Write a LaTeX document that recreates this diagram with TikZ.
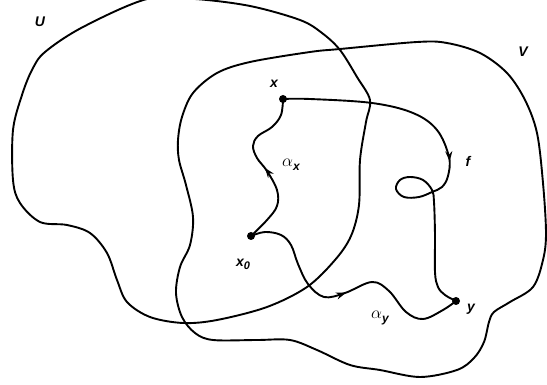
\documentclass[tikz,border=0pt]{standalone}
\usepackage{fontspec}
\newfontfamily\labfont{Liberation Sans}[BoldItalicFont={* Bold Italic}]
\usetikzlibrary{arrows.meta,decorations.markings}
\tikzset{
  curve/.style={line width=1.9pt, line join=round, line cap=round},
  dotnode/.style={circle, fill=black, inner sep=0pt, minimum size=8pt},
  lab/.style={font=\labfont\bfseries\itshape\fontsize{14}{14}\selectfont, inner sep=0pt},
  midarrow/.style={postaction={decorate, decoration={markings,
     mark=at position #1 with {\arrow{Stealth[length=10pt,width=7pt]}}}}}
}
\newcommand{\alab}[1]{{\fontsize{19}{19}\selectfont$\alpha$}\raisebox{-4pt}{\labfont\bfseries\itshape\fontsize{12}{12}\selectfont #1}}
\begin{document}
\begin{tikzpicture}[x=1pt,y=-1pt]
\useasboundingbox (0,0) rectangle (547,385);
% set U
\draw[curve] plot[smooth cycle, tension=0.55] coordinates {
 (147,-1) (195,-1) (250,6) (300,20) (322,33) (340,50) (357,77) (370,100)
 (366,122) (360,160) (359,205) (351,236) (335,260) (307,287) (267,307)
 (217,320) (183,323) (150,317) (127,302) (117,280) (107,253) (90,233)
 (67,225) (40,222) (20,203) (13,180) (13,130) (22,95) (32,70) (45,52) (83,27)};
% set V
\draw[curve] plot[smooth cycle, tension=0.55] coordinates {
 (447,43) (480,53) (507,73) (525,100) (537,133) (543,183) (546,233) (543,260)
 (533,287) (510,302) (494,312) (489,322) (484,342) (474,358) (457,370)
 (420,377) (380,370) (350,365) (317,350) (290,340) (257,340) (213,340)
 (195,333) (182,317) (176,293) (180,267) (190,245) (193,217) (186,185)
 (179,160) (178,140) (182,117) (193,93) (217,73) (250,62) (310,52) (340,49) (417,42)};
% points
\node[dotnode] (x) at (283,99) {};
\node[dotnode] (x0) at (251,236) {};
\node[dotnode] (y) at (456,301) {};
% labels
\node[lab] (U) at (40,22) {U};
\node[lab] (V) at (523,52) {V};
\node[lab] (xl) at (274,84) {x};
\node[lab] (yl) at (471,309) {y};
\node[lab] (fl) at (468,161) {f};
\node[lab, anchor=base west] (x0l) at (236,266) {x\raisebox{-3pt}{\fontsize{11}{11}\selectfont 0}};
\node[inner sep=0pt] (ax) at (291,165) {\alab{x}};
\node[inner sep=0pt] (ay) at (380,318) {\alab{y}};
% paths
\draw[curve, midarrow=0.49] plot[smooth, tension=0.6] coordinates {
 (x0) (267,220) (277,206) (277,190) (267,171) (257,158) (253,146) (258,136)
 (272,127) (281,115) (x)};
\draw[curve, midarrow=0.5] plot[smooth, tension=0.6] coordinates {
 (x0) (265,232) (281,235) (291,245) (298,264) (308,284) (324,297) (345,293)
 (372,282) (389,291) (406,312) (423,319) (443,310) (y)};
\draw[curve, midarrow=0.44] plot[smooth, tension=0.6] coordinates {
 (x) (310,99) (372,103) (413,113) (437,130) (449,157) (448,176) (442,187)
 (432,192) (419,197) (404,197) (396,189) (400,180) (410,177) (423,180)
 (432,190) (434,202) (435,235) (435,272) (438,287) (445,295) (y)};
\end{tikzpicture}
\end{document}
